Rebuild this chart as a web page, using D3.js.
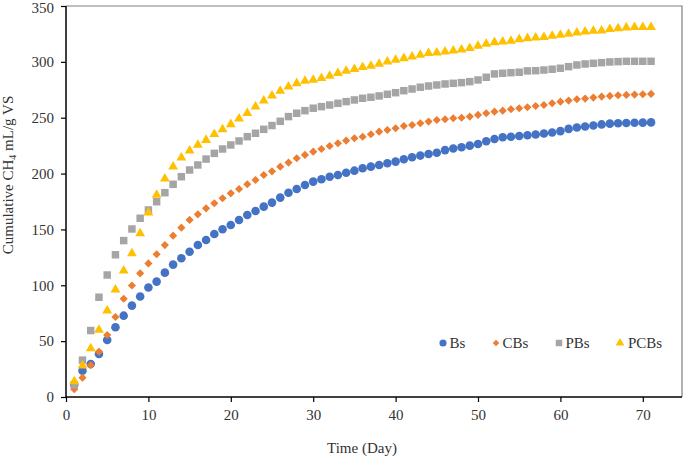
<!DOCTYPE html>
<html>
<head>
<meta charset="utf-8">
<script src="https://cdn.jsdelivr.net/npm/d3@7"></script>
<style>
  html, body { margin: 0; padding: 0; background: #fff; }
  svg { display: block; }
  text { font-family: "Liberation Serif", "Times New Roman", serif; fill: #333; }
</style>
</head>
<body>
<svg id="chart" width="685" height="458"></svg>
<script>
// ---- data ----
const days = d3.range(1, 72);
const xTicks = [0, 10, 20, 30, 40, 50, 60, 70];
const yTicks = [0, 50, 100, 150, 200, 250, 300, 350];
const seriesNames = ["Bs", "CBs", "PBs", "PCBs"];

const Bs = [11, 23.5, 29.5, 38.5, 51, 62.5, 72.8, 81.8, 90, 98,
  103.3, 111.3, 118.5, 124.2, 130, 136, 140.6, 145.9, 150.1, 154,
  158.5, 162.9, 166.5, 170.4, 174, 178.5, 182.9, 186.2, 189.8, 192.8,
  194.9, 197.2, 198.7, 200.8, 202.6, 204.7, 206.2, 207.7, 209.2, 210.7,
  212.8, 214.6, 216.1, 217.5, 218.7, 221, 222.5, 223.5, 225, 226.5,
  229, 231, 232.5, 233, 233.7, 234.3, 235, 235.8, 236.7, 238,
  240, 241.2, 242.2, 243, 244, 244.7, 245, 245.2, 245.5, 245.6, 245.8];

const CBs = [7, 17.3, 28.5, 40.6, 55.5, 71.6, 88, 99.8, 110.7, 119.6,
  127.8, 136, 144.4, 151.6, 158.5, 163.5, 168.9, 173.4, 177.9, 182.3,
  186.2, 190.4, 194.3, 198.7, 202, 206.2, 209.8, 213.7, 216.7, 219.6,
  222, 224.7, 227.1, 229.5, 231.6, 233, 235.2, 237.5, 239, 240.6,
  242.6, 243.5, 245, 246.5, 248, 248.6, 249.5, 250, 251, 252.5,
  254, 255.4, 256.3, 257.6, 258.5, 259.4, 260.5, 261.4, 262.9, 264.4,
  265.3, 266.5, 267.1, 268, 268.9, 269.5, 270.1, 270.4, 270.7, 271, 271.3];

const PBs = [11, 33, 59.5, 89.3, 109.2, 127.3, 140, 150.4, 160, 167.4,
  174.8, 182.9, 190.4, 197.2, 203.2, 207.7, 213, 218.1, 222, 225.6,
  229.2, 233, 236.1, 239.6, 243, 246.8, 251, 254, 256.3, 258.5,
  259.9, 261.4, 262.9, 264.4, 265.9, 267.4, 268.3, 269.5, 271, 272.4,
  274.2, 275.7, 277.3, 278.4, 279.3, 280.2, 280.8, 281.4, 282.3, 283.8,
  286.2, 289.2, 289.8, 290.3, 290.7, 291.9, 292.1, 292.7, 293.4, 294.3,
  295.7, 297.2, 298.1, 298.7, 299.3, 299.9, 300.2, 300.5, 300.5, 300.5, 300.5];

const PCBs = [14, 28, 43.5, 60, 77.2, 96, 113, 128.5, 146.5, 165,
  180.8, 195.5, 206.2, 214.2, 220.5, 225.6, 230, 235.2, 239.6, 244.1,
  249.2, 254, 259.9, 265.3, 269.8, 274, 277.8, 280.8, 282.9, 283.8,
  285.3, 287.4, 289.8, 291.9, 293.4, 295.2, 296.3, 298.1, 300.2, 301.7,
  303.2, 304.7, 306.2, 307.7, 308.2, 309.1, 310, 311, 312.2, 314.2,
  316, 317.5, 318.1, 318.7, 320.2, 321.1, 321.7, 322, 323.2, 324.1,
  325, 326.2, 327, 327.7, 328, 329.2, 330, 330.7, 331, 331, 331];

// ---- styles ----
const seriesValues = [Bs, CBs, PBs, PCBs];
const colors = ["#4472C4", "#ED7D31", "#A5A5A5", "#FFC000"];
const shapes = [d3.symbolCircle, d3.symbolSquare, d3.symbolSquare, d3.symbolTriangle];
const sizes = [58, 33, 56, 42];
const legendSizes = [40, 22, 42, 34];
const rotations = [0, 45, 0, 0];

const svg = d3.select("#chart");
const x = d3.scaleLinear().domain([0, 75]).range([66, 684]);
const y = d3.scaleLinear().domain([0, 350]).range([397, 6]);

// plot border (top/right)
svg.append("path")
  .attr("d", `M${x(0)},${y(350)}H${x.range()[1] - 2}V${y(0)}`)
  .attr("fill", "none").attr("stroke", "#7f7f7f").attr("stroke-width", 1.2);

// axes
const xAxis = svg.append("g").attr("transform", `translate(0,${y(0)})`)
  .call(d3.axisBottom(x).tickValues(xTicks).tickSize(5).tickPadding(7).tickSizeOuter(0));
const yAxis = svg.append("g").attr("transform", `translate(${x(0)},0)`)
  .call(d3.axisLeft(y).tickValues(yTicks).tickSize(5).tickPadding(7).tickSizeOuter(0));
[xAxis, yAxis].forEach(g => {
  g.select(".domain").attr("stroke", "#000").attr("stroke-width", 1.5);
  g.selectAll(".tick line").attr("stroke", "#000").attr("stroke-width", 1.2);
  g.selectAll(".tick text").attr("font-family", "Liberation Serif").attr("font-size", 15).attr("fill", "#333");
});
yAxis.selectAll(".tick text").filter(d => d === 350).attr("dy", "0.42em");
yAxis.select(".domain").attr("d", `M0,${y(0)}V${y(350)}`);
xAxis.select(".domain").attr("d", `M0,0H${x.range()[1] - 2 - x(0)}`).attr("transform", `translate(${x(0)},0)`);

// series
seriesValues.forEach((vals, i) => {
  const sym = d3.symbol(shapes[i], sizes[i]);
  svg.append("g").selectAll("path").data(days.map((d, k) => [d, vals[k]])).join("path")
    .attr("d", sym)
    .attr("transform", d => `translate(${x(d[0])},${y(d[1])}) rotate(${rotations[i]})`)
    .attr("fill", colors[i]);
});

// legend
const legendX = [443, 496, 559, 620];
const legendY = 343;
seriesNames.forEach((name, i) => {
  svg.append("path")
    .attr("d", d3.symbol(shapes[i], legendSizes[i])())
    .attr("transform", `translate(${legendX[i]},${legendY}) rotate(${rotations[i]})`)
    .attr("fill", colors[i]);
  svg.append("text")
    .attr("x", legendX[i] + (i === 3 ? 8 : 6.5))
    .attr("y", legendY + 5)
    .attr("font-size", 15)
    .text(name);
});

// axis titles
svg.append("text")
  .attr("x", 362).attr("y", 453)
  .attr("text-anchor", "middle").attr("font-size", 15)
  .text("Time (Day)");

const yt = svg.append("text")
  .attr("transform", "translate(13,175) rotate(-90)")
  .attr("text-anchor", "middle").attr("font-size", 15);
yt.append("tspan").text("Cumulative CH");
yt.append("tspan").attr("font-size", 10).attr("dy", 3).text("4");
yt.append("tspan").attr("dy", -3).text(" mL/g VS");
</script>
</body>
</html>
